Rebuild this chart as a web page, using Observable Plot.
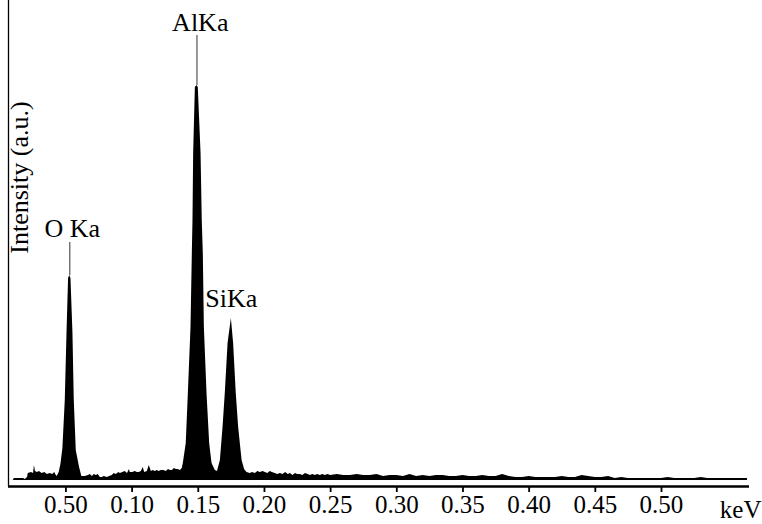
<!DOCTYPE html>
<html>
<head>
<meta charset="utf-8">
<script src="https://cdn.jsdelivr.net/npm/d3@7"></script>
<script src="https://cdn.jsdelivr.net/npm/@observablehq/plot@0.6"></script>
<style>
  html, body { margin: 0; padding: 0; background: #fff; }
  #chart { width: 762px; height: 524px; }
</style>
</head>
<body>
<div id="chart"></div>
<script>
// Spectrum: energy (keV) and intensity (a.u.)
const energy = [
  0.0102,0.0110,0.0180,0.0192,0.0210,0.0215,0.0240,0.0255,0.0262,0.0270,0.0285,0.0300,0.0320,0.0340,0.0360,0.0380,0.0400,0.0415,0.0427,
  0.0434,0.0449,0.0462,0.0477,0.0495,0.0508,0.0520,0.0529,0.0538,0.0553,0.0563,0.0578,0.0603,0.0620,
  0.0646,0.0670,0.0684,0.0700,0.0714,0.0730,0.0744,0.0760,0.0774,0.0790,0.0812,0.0830,0.0850,0.0865,0.0880,0.0900,0.0911,0.0930,0.0948,0.0965,0.0980,0.0986,
  0.1005,0.1024,0.1040,0.1054,0.1070,0.1084,0.1095,0.1115,0.1130,0.1145,0.1160,0.1175,0.1190,0.1205,0.1220,0.1240,0.1258,0.1275,0.1289,0.1305,0.1319,0.1335,0.1349,0.1365,
  0.1379,0.1387,0.1409,0.1425,0.1445,0.1455,0.1460,0.1465,0.1478,0.1490,0.1500,0.1521,0.1530,0.1538,0.1546,0.1566,0.1586,0.1604,0.1629,0.1645,
  0.1667,0.1687,0.1704,0.1725,0.1750,0.1767,0.1787,0.1805,0.1831,0.1850,0.1868,0.1893,
  0.1910,0.1931,0.1950,0.1969,0.1990,0.2007,0.2025,0.2044,0.2060,0.2082,0.2100,0.2120,0.2140,0.2160,0.2180,0.2196,0.2215,0.2235,0.2250,0.2271,0.2290,0.2310,0.2330,0.2347,0.2365,0.2385,0.2400,0.2423,0.2440,0.2460,0.2480,0.2500,
  0.255,0.260,0.265,0.270,0.275,0.280,0.285,0.290,0.295,0.300,0.305,0.310,0.315,0.320,0.325,0.330,0.335,0.340,0.345,0.350,0.355,0.360,0.365,0.370,0.375,0.380,0.385,0.390,0.395,0.400,
  0.405,0.410,0.415,0.420,0.425,0.430,0.435,0.440,0.445,0.450,0.455,0.460,0.465,0.470,0.475,0.480,0.485,0.490,0.495,0.500,0.505,0.510,0.515,0.520,0.525,0.530,0.535,0.540,0.545,0.550,0.555,0.560,0.565
];
const counts = [
  0,2,2,1,3,7,8,7,15,9,8,9,7,8,6,7,6,8,5,
  4,8,16,32,80,147,202,205,202,147,80,30,13,4,
  4,5,6,4,6,5,6,3,3,4,3,4,5,7,6,8,7,8,9,7,11,8,
  8,9,8,8,9,13,8,9,15,9,10,9,10,9,10,10,9,11,10,10,12,11,11,10,
  12,17,37,87,153,227,260,327,393,395,393,327,260,227,153,87,37,17,10,9,
  20,53,87,137,162,137,87,53,20,11,8,7,
  8,7,9,8,9,8,7,9,8,7,6,7,6,8,6,7,5,7,6,6,5,7,6,5,6,5,6,5,6,5,6,5,
  6,5,5,6,5,5,6,4,5,5,4,6,4,5,4,5,5,4,4,5,4,4,5,4,4,6,4,3,3,4,
  3,3,3,3,4,3,3,5,4,3,3,4,2,3,2,2,2,2,2,2,3,2,2,2,2,3,2,2,2,2,2,2,2
];

// Thin tips of the two tallest peaks
const tipEnergy = [0.0529, 0.1490];
const tipBase = [205, 395];
const tipTop = [238, 445];

// Peak labels
const peakNames = ["O Ka", "AlKa", "SiKa"];
const peakLabelEnergy = [0.0548, 0.1515, 0.1750];
const peakLabelY = [244, 450, 174];

// Axis ticks
const tickValues = [0.05, 0.10, 0.15, 0.20, 0.25, 0.30, 0.35, 0.40, 0.45, 0.50];
const tickLabels = ["0.50", "0.10", "0.15", "0.20", "0.25", "0.30", "0.35", "0.40", "0.45", "0.50"];

const xDomain = [0.0066, 0.5665];
const yDomain = [-6, 480];

const data = energy.map((e, i) => ({e, c: counts[i]}));
const tips = tipEnergy.map((e, i) => ({e, y1: tipBase[i], y2: tipTop[i]}));
const labels = peakNames.map((name, i) => ({name, e: peakLabelEnergy[i], c: peakLabelY[i]}));

const font = "'Liberation Serif', 'Times New Roman', serif";

const chart = Plot.plot({
  width: 762,
  height: 524,
  marginLeft: 8,
  marginRight: 13,
  marginTop: 0,
  marginBottom: 38,
  x: {domain: xDomain},
  y: {domain: yDomain, axis: null},
  style: {fontFamily: font, fontSize: "25px", background: "#fff", color: "#000", overflow: "visible"},
  marks: [
    Plot.areaY(data, {x: "e", y: "c", fill: "#000", curve: "linear"}),
    Plot.ruleX(tips, {x: "e", y1: "y1", y2: "y2", stroke: "#555", strokeWidth: 1.2}),
    Plot.ruleY([yDomain[0]], {stroke: "#000", strokeWidth: 2.4}),
    Plot.ruleX([xDomain[0]], {stroke: "#000", strokeWidth: 1.3}),
    Plot.axisX({
      ticks: tickValues,
      tickFormat: d => tickLabels[tickValues.findIndex(v => Math.abs(v - d) < 1e-9)],
      tickSize: 6,
      tickPadding: 3,
      fontSize: 25,
      strokeWidth: 1.8,
      label: null
    }),
    Plot.text(labels, {x: "e", y: "c", text: "name", fontSize: 26, lineAnchor: "bottom", textAnchor: "middle", fill: "#000"}),
    Plot.text(["Intensity (a.u.)"], {x: 0.0217, y: 303, rotate: -90, fontSize: 26, lineAnchor: "bottom", textAnchor: "middle", fill: "#000"}),
    Plot.text(["keV"], {frameAnchor: "bottom-right", textAnchor: "end", lineAnchor: "bottom", dx: 12, dy: 31, fontSize: 25, fill: "#000"})
  ]
});
document.getElementById("chart").appendChild(chart);
</script>
</body>
</html>
